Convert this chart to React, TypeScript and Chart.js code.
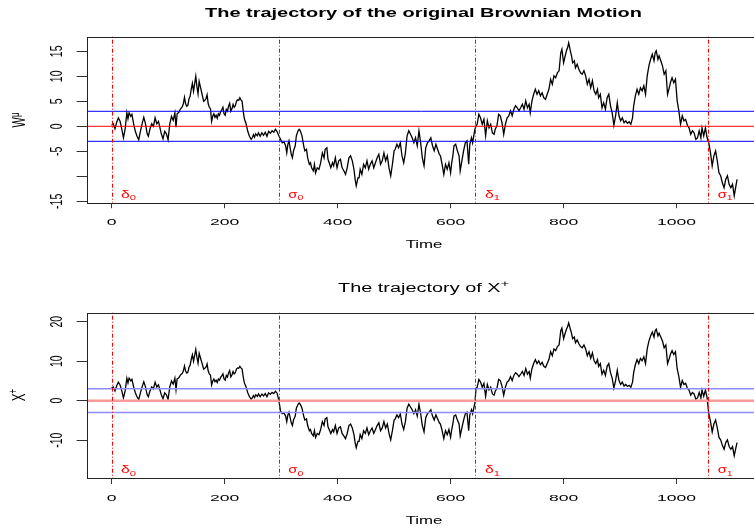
import React, { useEffect, useRef } from "react";
import { Chart, registerables } from "chart.js";

Chart.register(...registerables);

// ---------------- data ----------------
const timeGrid = [
  0, 3, 6, 9, 12, 15, 18, 21, 24, 27,
  29, 31, 34, 36, 39, 42, 45, 48, 51, 54,
  57, 60, 63, 65, 68, 71, 74, 77, 80, 83,
  85, 88, 91, 94, 97, 100, 103, 106, 109, 112,
  114, 116, 119, 122, 125, 127, 129, 131, 133, 135,
  137, 139, 141, 143, 145, 147, 149, 151, 153, 155,
  157, 159, 161, 163, 165, 167, 169, 171, 173, 175,
  177, 179, 181, 183, 185, 187, 189, 191, 193, 195,
  197, 199, 201, 203, 205, 207, 209, 211, 213, 215,
  217, 219, 221, 223, 225, 227, 229, 231, 233, 235,
  238, 241, 244, 247, 249, 251, 253, 255, 258, 260,
  263, 266, 269, 272, 275, 278, 281, 284, 287, 290,
  293, 296, 299, 302, 305, 308, 310, 312, 314, 316,
  318, 320, 322, 325, 327, 330, 332, 334, 337, 340,
  342, 345, 347, 350, 352, 354, 357, 359, 361, 364,
  367, 370, 373, 376, 378, 381, 383, 386, 388, 391,
  393, 396, 399, 402, 405, 408, 411, 414, 417, 420,
  423, 426, 429, 431, 433, 436, 438, 440, 443, 446,
  449, 452, 455, 458, 461, 464, 467, 470, 473, 476,
  479, 482, 485, 488, 491, 494, 497, 500, 502, 505,
  508, 511, 514, 517, 520, 523, 526, 529, 532, 535,
  538, 541, 544, 547, 550, 553, 556, 559, 562, 565,
  568, 571, 574, 577, 580, 582, 585, 588, 591, 594,
  597, 600, 602, 604, 606, 609, 612, 615, 617, 620,
  623, 626, 629, 632, 634, 637, 639, 641, 643, 645,
  647, 650, 653, 656, 659, 662, 665, 668, 671, 674,
  677, 679, 682, 685, 688, 691, 694, 697, 700, 703,
  706, 709, 712, 715, 718, 721, 724, 727, 730, 733,
  736, 739, 741, 744, 747, 750, 753, 756, 759, 762,
  765, 768, 771, 774, 777, 780, 783, 786, 789, 792,
  795, 797, 800, 802, 805, 807, 809, 812, 814, 816,
  819, 821, 824, 827, 830, 833, 836, 839, 842, 845,
  848, 851, 854, 857, 860, 862, 865, 868, 871, 874,
  877, 880, 883, 886, 889, 892, 895, 898, 901, 904,
  907, 910, 913, 916, 919, 922, 924, 927, 930, 933,
  936, 939, 942, 945, 948, 951, 954, 957, 960, 962,
  964, 967, 969, 972, 975, 978, 981, 984, 987, 989,
  992, 995, 998, 1001, 1004, 1007, 1010, 1013, 1016, 1019,
  1022, 1025, 1028, 1031, 1034, 1037, 1040, 1043, 1045, 1048,
  1051, 1054, 1057, 1060, 1063, 1066, 1069, 1072, 1075, 1078,
  1081, 1084, 1087, 1090, 1093, 1096, 1099, 1102, 1105, 1107,
];

const wValues = [
  0.2, 0.5, -0.5, 0.8, 1.7, 1.0, -0.5, -2.3, -0.5, 2.7,
  1.5, 2.7, 2.0, 2.4, 0.5, -1.0, -2.0, -2.7, -1.0, 0.5,
  1.8, 0.5, -1.5, -2.0, -0.5, 0.5, 0.0, 1.7, 0.5, 1.0,
  0.0, -1.5, -2.5, -1.0, -1.5, -2.7, 0.5, 2.0, 1.2, 2.7,
  -0.2, 2.5, 2.8, 3.5, 3.9, 4.5, 5.8, 4.5, 4.0, 4.2,
  5.5, 6.0, 7.5, 8.6, 7.0, 8.5, 10.0, 8.0, 6.5, 9.0,
  8.0, 7.0, 6.0, 5.0, 5.2, 5.5, 6.3, 4.5, 3.8, 3.5,
  1.0, 2.0, 2.5, 1.8, 2.2, 1.6, 2.5, 2.2, 2.9, 3.3,
  3.8, 2.5, 2.2, 3.4, 3.0, 4.0, 4.6, 3.0, 3.5, 4.4,
  3.8, 4.1, 5.0, 5.3, 5.2, 5.7, 5.3, 5.0, 3.0, 1.5,
  0.5, -1.0, -2.0, -2.6, -2.3, -1.7, -2.2, -1.5, -1.9, -1.3,
  -2.0, -1.3, -1.8, -1.2, -2.0, -1.0, -1.4, -0.9, -1.2, -0.6,
  -1.1, -1.9, -2.6, -3.3, -3.1, -3.9, -5.3, -3.6, -2.9, -4.3,
  -5.6, -6.3, -4.9, -3.9, -1.9, -0.9, -0.6, -0.9, -1.9, -3.9,
  -4.9, -4.6, -6.3, -7.6, -7.3, -8.3, -8.9, -7.6, -9.3, -8.3,
  -8.6, -7.3, -5.3, -6.3, -4.6, -4.3, -6.6, -7.6, -8.3, -7.3,
  -7.9, -6.3, -8.3, -6.9, -6.6, -8.3, -8.9, -9.6, -8.3, -6.3,
  -5.9, -6.9, -8.6, -10.6, -11.9, -10.3, -10.3, -8.6, -9.6, -7.6,
  -8.3, -6.9, -8.6, -7.6, -6.9, -8.3, -7.3, -6.3, -5.6, -7.6,
  -6.9, -5.3, -6.9, -5.9, -8.3, -9.9, -7.6, -4.9, -4.6, -3.6,
  -4.3, -3.3, -5.9, -7.3, -5.3, -1.9, -0.9, -1.6, -2.3, -3.3,
  -2.3, -3.9, -0.9, -3.3, -6.3, -7.9, -4.3, -3.3, -2.9, -2.3,
  -3.9, -4.9, -3.6, -4.6, -5.6, -5.9, -7.6, -9.6, -7.6, -8.6,
  -7.3, -9.3, -7.3, -5.9, -3.9, -3.6, -4.9, -5.9, -8.9, -6.9,
  -4.9, -3.3, -2.9, -7.6, -3.6, -2.3, -3.3, -1.9, -0.6, 0.1,
  0.4, 2.4, 1.7, 0.4, 1.4, -1.9, 1.1, -0.3, 0.4, -1.3,
  -1.6, -0.6, 0.1, 2.4, 2.1, 0.7, -1.6, 0.4, 1.7, 2.1,
  3.1, 2.1, 3.4, 4.1, 3.7, 3.1, 3.7, 4.4, 3.4, 5.1,
  3.7, 4.4, 2.7, 5.1, 6.4, 7.4, 6.4, 7.1, 6.1, 6.7,
  5.7, 5.4, 6.4, 7.4, 9.4, 8.4, 10.1, 9.7, 10.7, 11.1,
  14.7, 15.4, 12.7, 13.7, 15.1, 15.7, 16.7, 15.1, 14.1, 12.7,
  13.1, 11.7, 12.4, 11.4, 10.7, 10.4, 11.1, 10.1, 8.4, 9.4,
  7.7, 9.1, 7.1, 6.4, 7.4, 5.7, 6.4, 3.7, 4.7, 3.4,
  5.7, 6.4, 4.1, 2.7, 0.2, 2.1, 4.7, 2.1, 1.1, 1.7,
  0.7, 1.1, 0.6, 0.9, 0.4, 1.7, 4.1, 6.1, 7.4, 6.4,
  7.7, 7.1, 8.1, 6.4, 10.1, 12.1, 13.4, 14.4, 13.1, 14.7,
  15.1, 13.4, 14.1, 13.1, 12.1, 10.4, 11.1, 6.4, 7.7, 8.7,
  9.7, 8.7, 9.4, 5.1, 3.1, 0.4, 2.1, 1.1, 1.4, 0.2,
  -0.3, -1.6, -0.9, -1.3, -2.6, -2.3, -0.9, -2.3, -0.3, -1.9,
  -0.3, -2.3, -3.3, -5.3, -7.9, -5.9, -4.9, -6.9, -9.3, -9.9,
  -11.3, -12.3, -10.6, -9.9, -11.6, -12.3, -11.6, -13.9, -11.9, -10.6,
];

const xPlusValues = [
  3.2, 3.5, 2.5, 3.8, 4.7, 4.0, 2.5, 0.7, 2.5, 5.7,
  4.5, 5.7, 5.0, 5.4, 3.5, 2.0, 1.0, 0.3, 2.0, 3.5,
  4.8, 3.5, 1.5, 1.0, 2.5, 3.5, 3.0, 4.7, 3.5, 4.0,
  3.0, 1.5, 0.5, 2.0, 1.5, 0.3, 3.5, 5.0, 4.2, 5.7,
  2.8, 5.5, 5.8, 6.5, 6.9, 7.5, 8.8, 7.5, 7.0, 7.2,
  8.5, 9.0, 10.5, 11.6, 10.0, 11.5, 13.0, 11.0, 9.5, 12.0,
  11.0, 10.0, 9.0, 8.0, 8.2, 8.5, 9.3, 7.5, 6.8, 6.5,
  4.0, 5.0, 5.5, 4.8, 5.2, 4.6, 5.5, 5.2, 5.9, 6.3,
  6.8, 5.5, 5.2, 6.4, 6.0, 7.0, 7.6, 6.0, 6.5, 7.4,
  6.8, 7.1, 8.0, 8.3, 8.2, 8.7, 8.3, 8.0, 6.0, 4.5,
  3.5, 2.0, 1.0, 0.4, 0.7, 1.3, 0.8, 1.5, 1.1, 1.7,
  1.0, 1.7, 1.2, 1.8, 1.0, 2.0, 1.6, 2.1, 1.8, 2.4,
  1.9, 0.1, -2.6, -3.3, -3.1, -3.9, -5.3, -3.6, -2.9, -4.3,
  -5.6, -6.3, -4.9, -3.9, -1.9, -0.9, -0.6, -0.9, -1.9, -3.9,
  -4.9, -4.6, -6.3, -7.6, -7.3, -8.3, -8.9, -7.6, -9.3, -8.3,
  -8.6, -7.3, -5.3, -6.3, -4.6, -4.3, -6.6, -7.6, -8.3, -7.3,
  -7.9, -6.3, -8.3, -6.9, -6.6, -8.3, -8.9, -9.6, -8.3, -6.3,
  -5.9, -6.9, -8.6, -10.6, -11.9, -10.3, -10.3, -8.6, -9.6, -7.6,
  -8.3, -6.9, -8.6, -7.6, -6.9, -8.3, -7.3, -6.3, -5.6, -7.6,
  -6.9, -5.3, -6.9, -5.9, -8.3, -9.9, -7.6, -4.9, -4.6, -3.6,
  -4.3, -3.3, -5.9, -7.3, -5.3, -1.9, -0.9, -1.6, -2.3, -3.3,
  -2.3, -3.9, -0.9, -3.3, -6.3, -7.9, -4.3, -3.3, -2.9, -2.3,
  -3.9, -4.9, -3.6, -4.6, -5.6, -5.9, -7.6, -9.6, -7.6, -8.6,
  -7.3, -9.3, -7.3, -5.9, -3.9, -3.6, -4.9, -5.9, -8.9, -6.9,
  -4.9, -3.3, -2.9, -7.6, -3.6, -2.3, -3.3, -1.9, -0.6, 3.1,
  3.4, 5.4, 4.7, 3.4, 4.4, 1.1, 4.1, 2.7, 3.4, 1.7,
  1.4, 2.4, 3.1, 5.4, 5.1, 3.7, 1.4, 3.4, 4.7, 5.1,
  6.1, 5.1, 6.4, 7.1, 6.7, 6.1, 6.7, 7.4, 6.4, 8.1,
  6.7, 7.4, 5.7, 8.1, 9.4, 10.4, 9.4, 10.1, 9.1, 9.7,
  8.7, 8.4, 9.4, 10.4, 12.4, 11.4, 13.1, 12.7, 13.7, 14.1,
  17.7, 18.4, 15.7, 16.7, 18.1, 18.7, 19.7, 18.1, 17.1, 15.7,
  16.1, 14.7, 15.4, 14.4, 13.7, 13.4, 14.1, 13.1, 11.4, 12.4,
  10.7, 12.1, 10.1, 9.4, 10.4, 8.7, 9.4, 6.7, 7.7, 6.4,
  8.7, 9.4, 7.1, 5.7, 3.2, 5.1, 7.7, 5.1, 4.1, 4.7,
  3.7, 4.1, 3.6, 3.9, 3.4, 4.7, 7.1, 9.1, 10.4, 9.4,
  10.7, 10.1, 11.1, 9.4, 13.1, 15.1, 16.4, 17.4, 16.1, 17.7,
  18.1, 16.4, 17.1, 16.1, 15.1, 13.4, 14.1, 9.4, 10.7, 11.7,
  12.7, 11.7, 12.4, 8.1, 6.1, 3.4, 5.1, 4.1, 4.4, 3.2,
  2.7, 1.4, 2.1, 1.7, 0.4, 0.7, 2.1, 0.7, 2.7, 1.1,
  2.7, 0.7, -3.3, -5.3, -7.9, -5.9, -4.9, -6.9, -9.3, -9.9,
  -11.3, -12.3, -10.6, -9.9, -11.6, -12.3, -11.6, -13.9, -11.9, -10.6,
];

const eventTimes = [0, 296, 644, 1056];
const eventSymbols = ["δ", "σ", "δ", "σ"];
const eventSubscripts = ["0", "0", "1", "1"];
const eventLabelShift = 30;

const xTicks = [0, 200, 400, 600, 800, 1000];
const xTickLabels = ["0", "200", "400", "600", "800", "1000"];
const topYTicks = [-15, -10, -5, 0, 5, 10, 15];
const topYTickLabels = ["-15", "", "-5", "0", "5", "10", "15"];
const bottomYTicks = [-10, 0, 10, 20];
const bottomYTickLabels = ["-10", "0", "10", "20"];
const bandLevels = [3, -3];

const topTitle = "The trajectory of the original Brownian Motion";
const bottomTitle = "The trajectory of X";
const xAxisTitle = "Time";

// ---------------- drawing helpers ----------------
const FONT = '"Liberation Sans", Arial, Helvetica, sans-serif';
const X_MIN = -43;
const X_MAX = 1140;

type Part = { text: string; size: number; dy?: number; bold?: boolean };

function drawParts(
  ctx: CanvasRenderingContext2D,
  parts: Part[],
  x: number,
  y: number,
  opts: { color: string; sx?: number; fitWidth?: number; rotated?: boolean }
) {
  ctx.save();
  ctx.fillStyle = opts.color;
  ctx.textBaseline = "alphabetic";
  ctx.textAlign = "left";
  const fontOf = (p: Part) => `${p.bold ? "bold " : ""}${p.size}px ${FONT}`;
  const widths = parts.map((p) => {
    ctx.font = fontOf(p);
    return ctx.measureText(p.text).width;
  });
  const total = widths.reduce((a, b) => a + b, 0);
  let sx = opts.sx ?? 1;
  if (opts.fitWidth && !opts.rotated && total > 0) sx = opts.fitWidth / total;
  ctx.translate(x, y);
  ctx.scale(sx, 1);
  if (opts.rotated) ctx.rotate(-Math.PI / 2);
  let cur = -total / 2;
  parts.forEach((p, i) => {
    ctx.font = fontOf(p);
    ctx.fillText(p.text, cur, p.dy ?? 0);
    cur += widths[i];
  });
  ctx.restore();
}

type PanelCfg = {
  values: number[];
  height: number;
  offsetTop: number;
  areaTop: number;
  xAxisHeight: number;
  yMin: number;
  yMax: number;
  yTicks: number[];
  yTickLabels: string[];
  zeroColor: string;
  zeroWidth: number;
  bandColor: string;
  bandWidth: number;
  title: Part[];
  titleWidth: number;
  titleBaseline: number;
  yTitle: Part[];
  yTitleCenter: number;
  eventLabelLevel: number;
};

const CANVAS_W = 760;
const Y_AXIS_W = 87.3;
const RIGHT_PAD = 4.3;

function Panel({ cfg }: { cfg: PanelCfg }) {
  const ref = useRef<HTMLCanvasElement | null>(null);

  useEffect(() => {
    if (!ref.current) return;
    const traj = timeGrid.map((t, i) => ({ x: t, y: cfg.values[i] }));
    const datasets: any[] = [
      {
        data: traj,
        borderColor: "#000000",
        borderWidth: 1.3,
        pointRadius: 0,
        tension: 0,
        order: 5,
      },
      {
        data: [
          { x: X_MIN, y: 0 },
          { x: X_MAX, y: 0 },
        ],
        borderColor: cfg.zeroColor,
        borderWidth: cfg.zeroWidth,
        pointRadius: 0,
        order: 2,
      },
      ...bandLevels.map((lv) => ({
        data: [
          { x: X_MIN, y: lv },
          { x: X_MAX, y: lv },
        ],
        borderColor: cfg.bandColor,
        borderWidth: cfg.bandWidth,
        pointRadius: 0,
        order: 1,
      })),
    ];

    const overlay = {
      id: "rstyle",
      afterDatasetsDraw(chart: any) {
        const ctx: CanvasRenderingContext2D = chart.ctx;
        const a = chart.chartArea;
        const xs = chart.scales.x;
        // vertical dash-dot lines at the stopping times
        ctx.save();
        ctx.strokeStyle = "#ff0000";
        ctx.lineWidth = 1;
        ctx.setLineDash([1, 2, 4, 2]);
        eventTimes.forEach((t) => {
          const px = Math.round(xs.getPixelForValue(t)) + 0.5;
          ctx.beginPath();
          ctx.moveTo(px, a.top);
          ctx.lineTo(px, a.bottom);
          ctx.stroke();
        });
        ctx.restore();
      },
      afterDraw(chart: any) {
        const ctx: CanvasRenderingContext2D = chart.ctx;
        const a = chart.chartArea;
        const xs = chart.scales.x;
        const ys = chart.scales.y;
        // frame
        ctx.save();
        ctx.strokeStyle = "#222222";
        ctx.lineWidth = 1;
        const l = Math.round(a.left) + 0.5;
        const tp = Math.round(a.top) + 0.5;
        const r = Math.round(a.right) + 0.5;
        const b = Math.round(a.bottom) + 0.5;
        ctx.strokeRect(l, tp, r - l, b - tp);
        ctx.restore();

        // x tick labels
        xTicks.forEach((v, i) => {
          drawParts(ctx, [{ text: xTickLabels[i], size: 9.5 }], xs.getPixelForValue(v), a.bottom + 22.5, {
            color: "#000",
            sx: 1.85,
          });
        });
        // y tick labels (rotated)
        cfg.yTicks.forEach((v, i) => {
          const txt = cfg.yTickLabels[i];
          if (!txt) return;
          drawParts(ctx, [{ text: txt, size: 10.5 }], 61.5, ys.getPixelForValue(v), {
            color: "#000",
            sx: 1.5,
            rotated: true,
          });
        });
        // event labels
        eventTimes.forEach((t, i) => {
          drawParts(
            ctx,
            [
              { text: eventSymbols[i], size: 10.5 },
              { text: eventSubscripts[i], size: 7.5, dy: 2.5 },
            ],
            xs.getPixelForValue(t + eventLabelShift),
            ys.getPixelForValue(cfg.eventLabelLevel),
            { color: "#ff0000", fitWidth: 15 }
          );
        });
        // title
        drawParts(ctx, cfg.title, 423.5, cfg.titleBaseline, {
          color: "#000",
          fitWidth: cfg.titleWidth,
        });
        // x axis title
        drawParts(ctx, [{ text: xAxisTitle, size: 11.5 }], 424, a.bottom + 45.8, {
          color: "#000",
          fitWidth: 36.7,
        });
        // y axis title (rotated)
        drawParts(ctx, cfg.yTitle, 25, cfg.yTitleCenter, {
          color: "#000",
          sx: 1.6,
          rotated: true,
        });
      },
    };

    const chart = new Chart(ref.current, {
      type: "line",
      data: { datasets },
      options: {
        animation: false,
        responsive: false,
        devicePixelRatio: 1,
        events: [],
        layout: { padding: { top: cfg.areaTop, left: 0, right: RIGHT_PAD, bottom: 0 } },
        plugins: {
          legend: { display: false },
          tooltip: { enabled: false },
          title: { display: false },
        },
        elements: { line: { fill: false } },
        scales: {
          x: {
            type: "linear",
            position: "bottom",
            min: X_MIN,
            max: X_MAX,
            bounds: "data",
            afterBuildTicks: (s: any) => {
              s.ticks = xTicks.map((v) => ({ value: v }));
            },
            afterFit: (s: any) => {
              s.height = cfg.xAxisHeight;
            },
            ticks: { display: false },
            grid: {
              display: true,
              drawOnChartArea: false,
              drawTicks: true,
              tickLength: 5.7,
              color: "#333333",
              tickColor: "#333333",
              lineWidth: 1,
            },
            border: { display: false },
          },
          y: {
            type: "linear",
            position: "left",
            min: cfg.yMin,
            max: cfg.yMax,
            bounds: "data",
            afterBuildTicks: (s: any) => {
              s.ticks = cfg.yTicks.map((v) => ({ value: v }));
            },
            afterFit: (s: any) => {
              s.width = Y_AXIS_W;
            },
            ticks: { display: false },
            grid: {
              display: true,
              drawOnChartArea: false,
              drawTicks: true,
              tickLength: 10.7,
              color: "#333333",
              tickColor: "#333333",
              lineWidth: 1,
            },
            border: { display: false },
          },
        },
      } as any,
      plugins: [overlay],
    });
    return () => chart.destroy();
  }, []);

  return (
    <canvas
      ref={ref}
      width={CANVAS_W}
      height={cfg.height}
      style={{ position: "absolute", left: 0, top: cfg.offsetTop, width: CANVAS_W, height: cfg.height }}
    />
  );
}

const topCfg: PanelCfg = {
  values: wValues,
  height: 265,
  offsetTop: 0,
  areaTop: 36.7,
  xAxisHeight: 62.5,
  yMin: -15.24,
  yMax: 17.92,
  yTicks: topYTicks,
  yTickLabels: topYTickLabels,
  zeroColor: "#ff0000",
  zeroWidth: 1,
  bandColor: "#0000ff",
  bandWidth: 1,
  title: [{ text: topTitle, size: 12.5, bold: true }],
  titleWidth: 437,
  titleBaseline: 17.3,
  yTitle: [
    { text: "W", size: 11 },
    { text: "μ", size: 8, dy: -4 },
  ],
  yTitleCenter: 120,
  eventLabelLevel: -14.3,
};

const bottomCfg: PanelCfg = {
  values: xPlusValues,
  height: 266,
  offsetTop: 265,
  areaTop: 47.7,
  xAxisHeight: 52.7,
  yMin: -19.65,
  yMax: 22.28,
  yTicks: bottomYTicks,
  yTickLabels: bottomYTickLabels,
  zeroColor: "#ff9a9a",
  zeroWidth: 2.6,
  bandColor: "#8c8cff",
  bandWidth: 1.5,
  title: [
    { text: bottomTitle, size: 12.5 },
    { text: "+", size: 9, dy: -5 },
  ],
  titleWidth: 171,
  titleBaseline: 27.3,
  yTitle: [
    { text: "X", size: 11.5 },
    { text: "+", size: 8.5, dy: -5 },
  ],
  yTitleCenter: 130,
  eventLabelLevel: -18.4,
};

export default function App() {
  return (
    <div
      style={{
        position: "fixed",
        left: 0,
        top: 0,
        width: 754,
        height: 531,
        overflow: "hidden",
        background: "#ffffff",
      }}
    >
      <Panel cfg={topCfg} />
      <Panel cfg={bottomCfg} />
    </div>
  );
}
